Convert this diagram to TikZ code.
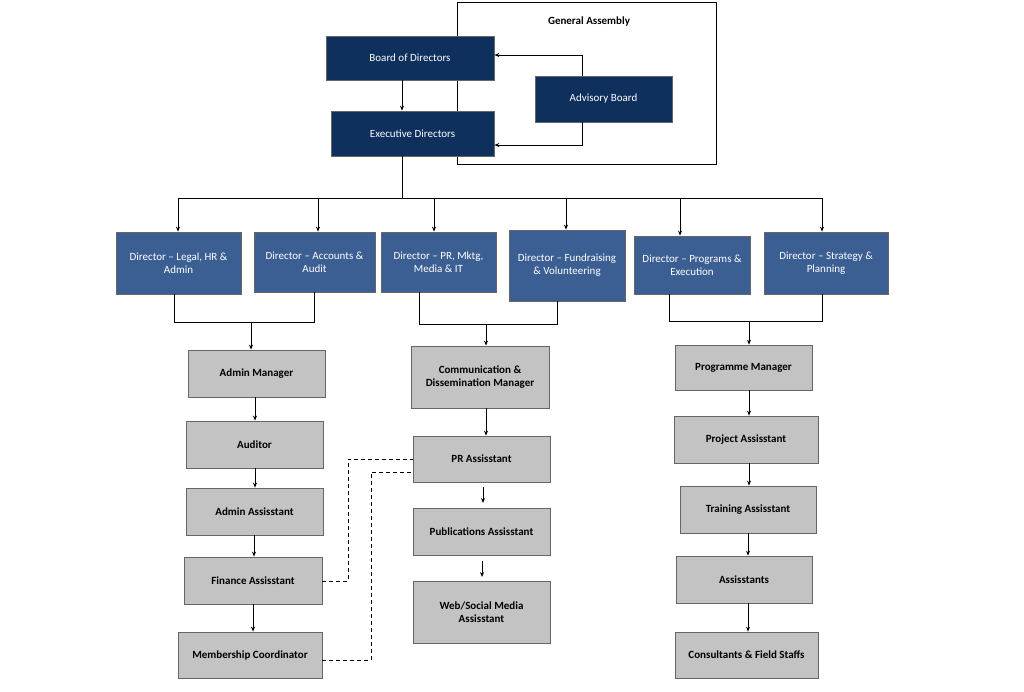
\documentclass[tikz,border=0pt]{standalone}
\usepackage{fontspec}
\setmainfont{Carlito}
\usetikzlibrary{arrows.meta}
\definecolor{darkb}{HTML}{0F2F5C}
\definecolor{dirb}{RGB}{59,95,147}
\definecolor{greyf}{HTML}{C3C3C3}
\begin{document}
\begin{tikzpicture}[x=1pt,y=-1pt,
  box/.style={draw=#1,line width=0.8pt,inner sep=0pt,align=center},
  dark/.style={box=black!60,fill=darkb,text=white},
  dir/.style={box=black!60,fill=dirb,text=white},
  grey/.style={box=black!60,fill=greyf,font=\fontsize{11}{13}\selectfont\bfseries},
  arr/.style={-{Stealth[length=5pt,width=4pt]},line width=0.8pt},
  ln/.style={line width=0.8pt},
  dsh/.style={line width=0.8pt,dash pattern=on 4pt off 3pt}]
\useasboundingbox (0,0) rectangle (1024,691);
\fill[white] (0,0) rectangle (1024,691);
\fontsize{11}{13}\selectfont
\newcommand\bx[6]{\node[#1,minimum width=#4-#2,minimum height=#5-#3] (#6) at ({(#2+#4)/2},{(#3+#5)/2})}
% General Assembly
\draw[line width=1pt] (457,2) rectangle (716,164);
\node[font=\fontsize{11}{13}\selectfont\bfseries] (ga) at (589,22) {General Assembly};
\bx{dark}{326}{36}{494}{80}{bod} {Board of Directors};
\bx{dark}{331}{111}{494}{156}{exe} {Executive Directors};
\bx{dark}{535}{76}{672}{122}{adv} {Advisory Board};
\draw[arr] (bod.south -| 402,0) -- (exe.north -| 402,0);
\draw[arr] (adv.north -| 582,0) |- (bod.east |- 0,55);
\draw[arr] (adv.south -| 582,0) |- (exe.east |- 0,145);
% directors
\bx{dir}{116}{232}{241}{294}{d1} {Director – Legal, HR \&\\Admin};
\bx{dir}{254}{232}{375}{292}{d2} {Director – Accounts \&\\Audit};
\bx{dir}{381}{232}{496}{292}{d3} {Director – PR, Mktg,\\Media \& IT};
\bx{dir}{509}{230}{625}{301}{d4} {Director – Fundraising\\\& Volunteering};
\bx{dir}{634}{236}{750}{294}{d5} {Director – Programs \&\\Execution};
\bx{dir}{764}{232}{888}{294}{d6} {Director – Strategy \&\\Planning};
\coordinate (bus) at (402,198);
\draw[ln] (exe.south -| bus) -- (bus);
\draw[ln] (178,198) -- (822,198);
\foreach \n/\x in {d1/178,d2/318,d3/434,d4/566,d5/680,d6/822}
  \draw[arr] (\x,198) -- (\n.north -| \x,0);
% grey boxes
\bx{grey}{188}{350}{325}{397}{am} {Admin Manager};
\bx{grey}{186}{421}{323}{468}{au} {Auditor};
\bx{grey}{186}{488}{323}{535}{aa} {Admin Assisstant};
\bx{grey}{184}{557}{322}{604}{fa} {Finance Assisstant};
\bx{grey}{178}{632}{322}{678}{mc} {Membership Coordinator};
\bx{grey}{411}{346}{549}{408}{cm} {Communication \&\\Dissemination Manager};
\bx{grey}{413}{436}{550}{482}{pr} {PR Assisstant};
\bx{grey}{413}{508}{550}{555}{pu} {Publications Assisstant};
\bx{grey}{413}{581}{550}{643}{wm} {Web/Social Media\\Assisstant};
\bx{grey}{675}{345}{812}{390}{pm} {Programme Manager};
\bx{grey}{674}{416}{818}{463}{pa} {Project Assisstant};
\bx{grey}{680}{486}{816}{533}{ta} {Training Assisstant};
\bx{grey}{676}{556}{812}{603}{as} {Assisstants};
\bx{grey}{675}{632}{818}{678}{cf} {Consultants \& Field Staffs};
% brackets
\draw[ln] (d1.south -| 174,0) -- (174,322) -- (314,322) -- (d2.south -| 314,0);
\draw[arr] (251,322) -- (am.north -| 251,0);
\draw[ln] (d3.south -| 419,0) -- (419,324) -- (557,324) -- (d4.south -| 557,0);
\draw[arr] (486,324) -- (cm.north -| 486,0);
\draw[ln] (d5.south -| 669,0) -- (669,321) -- (822,321) -- (d6.south -| 822,0);
\draw[arr] (749,321) -- (pm.north -| 749,0);
% chains
\foreach \a/\b/\x in {am/au/255,au/aa/255,aa/fa/254,fa/mc/253,cm/pr/486,pm/pa/749,pa/ta/749,ta/as/748,as/cf/748}
  \draw[arr] (\a.south -| \x,0) -- (\b.north -| \x,0);
\draw[arr] (483,487) -- (483,503);
\draw[arr] (482,561) -- (482,577);
% dashed
\draw[dsh] (fa.east |- 0,581) -- (348,581) -- (348,459) -- (pr.west |- 0,459);
\draw[dsh] (mc.east |- 0,660) -- (371,660) -- (371,472) -- (pr.west |- 0,472);
\end{tikzpicture}
\end{document}
